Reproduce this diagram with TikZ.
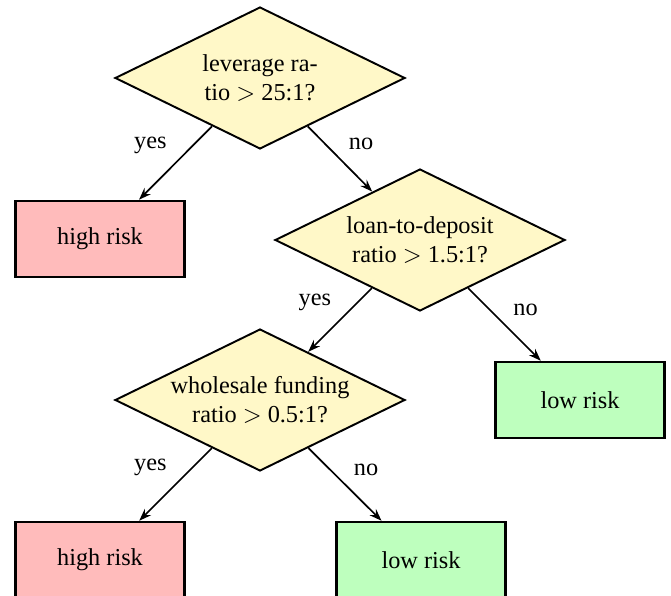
\documentclass[tikz,border=0pt]{standalone}
\usepackage{fontspec}
\setmainfont{Liberation Serif}
\usetikzlibrary{shapes.geometric,arrows.meta}
\definecolor{qfill}{RGB}{255,248,200}
\definecolor{hifill}{RGB}{255,187,187}
\definecolor{lofill}{RGB}{190,255,190}
\tikzset{
  decision/.style={diamond, draw, line width=0.8pt, fill=qfill, aspect=2.04,
    inner sep=0pt, minimum width=119.3pt, minimum height=58.4pt, align=center, font=\fontsize{10}{12}\selectfont},
  outcome/.style={rectangle, draw, line width=1pt, minimum width=69.5pt, minimum height=31.3pt,
    inner sep=0pt, font=\fontsize{10}{12}\selectfont},
  high/.style={outcome, fill=hifill},
  low/.style={outcome, fill=lofill},
  edge/.style={-{Stealth[length=5pt,width=3.6pt]}, line width=0.7pt},
  lbl/.style={font=\fontsize{10}{12}\selectfont}
}
\begin{document}
\begin{tikzpicture}[x=0.4114pt,y=-0.4114pt]
\clip (0,0) rectangle (671,596);
\useasboundingbox (0,0) rectangle (671,596);
\node[decision] (d1) at (260,78) {leverage ra-\\tio $>$ 25:1?};
\node[high] (b1) at (100,239) {high risk};
\node[decision] (d2) at (420,240) {loan-to-deposit\\ratio $>$ 1.5:1?};
\node[decision] (d3) at (260,400) {wholesale funding\\ratio $>$ 0.5:1?};
\node[low] (b2) at (580,400) {low risk};
\node[high] (b3) at (100,560) {high risk};
\node[low] (b4) at (421,560) {low risk};
\draw[edge] (d1) -- node[lbl, midway, above left] {yes} (b1);
\draw[edge] (d1) -- node[lbl, midway, above right] {no} (d2);
\draw[edge] (d2) -- node[lbl, midway, above left] {yes} (d3);
\draw[edge] (d2) -- node[lbl, midway, above right] {no} (b2);
\draw[edge] (d3) -- node[lbl, midway, above left] {yes} (b3);
\draw[edge] (d3) -- node[lbl, midway, above right] {no} (b4);
\end{tikzpicture}
\end{document}
